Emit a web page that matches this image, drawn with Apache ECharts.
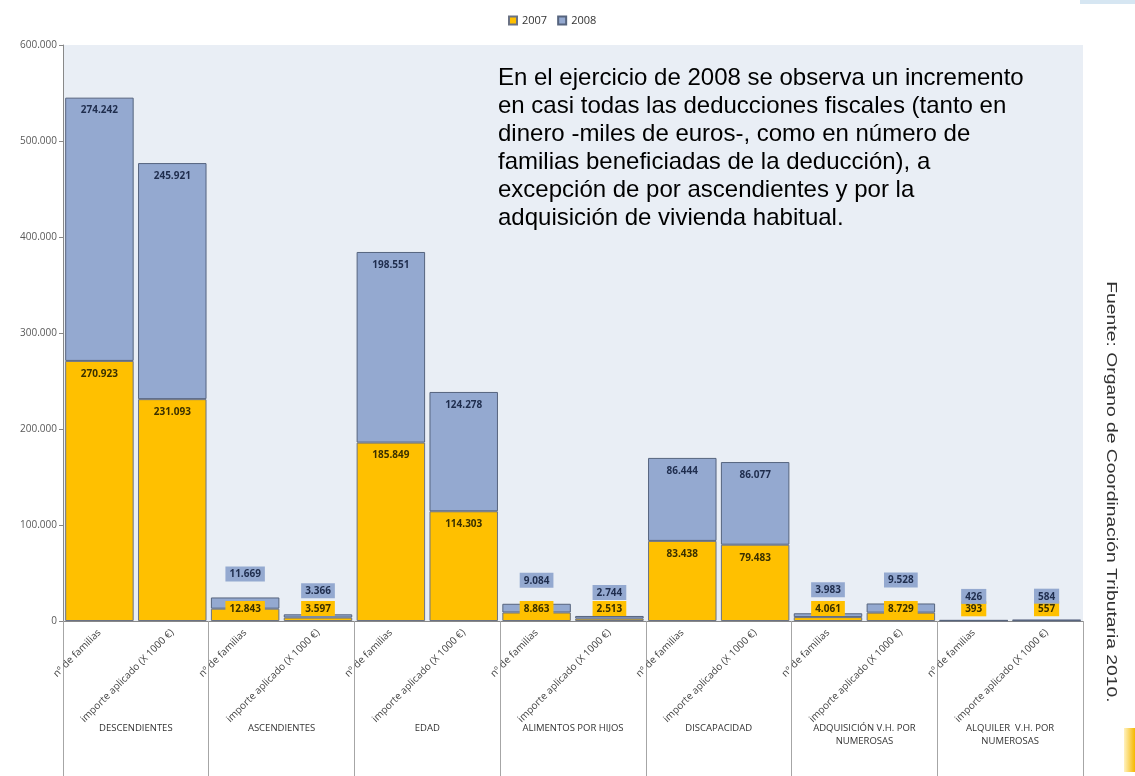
<!DOCTYPE html>
<html>
<head>
<meta charset="utf-8">
<script src="https://cdn.jsdelivr.net/npm/echarts@6/dist/echarts.min.js"></script>
<style>html,body{margin:0;padding:0;background:#fff;}#c{width:1135px;height:776px;}</style>
</head>
<body>
<div id="c"></div>
<script>
var subCategories = ['nº de familias','importe aplicado (X 1000 €)','nº de familias','importe aplicado (X 1000 €)','nº de familias','importe aplicado (X 1000 €)','nº de familias','importe aplicado (X 1000 €)','nº de familias','importe aplicado (X 1000 €)','nº de familias','importe aplicado (X 1000 €)','nº de familias','importe aplicado (X 1000 €)'];
var groups = ['DESCENDIENTES','ASCENDIENTES','EDAD','ALIMENTOS POR HIJOS','DISCAPACIDAD','ADQUISICIÓN V.H. POR\nNUMEROSAS','ALQUILER  V.H. POR\nNUMEROSAS'];
var values2007 = [270923,231093,12843,3597,185849,114303,8863,2513,83438,79483,4061,8729,393,557];
var values2008 = [274242,245921,11669,3366,198551,124278,9084,2744,86444,86077,3983,9528,426,584];
var yTicks = {min:0, max:600000, interval:100000};
var seriesNames = ['2007','2008'];

function fmt(v){ return String(v).replace(/\B(?=(\d{3})+(?!\d))/g,'.'); }

var YELLOW = '#FFC000', BLUE = '#94A9D0';
var FONT = 'Open Sans';

function build(vals, isTop){
  return vals.map(function(v,i){
    var total = values2007[i] + values2008[i];
    var small = total < 30000;
    var lab;
    if (!small) {
      lab = {show:true, position:'insideTop', distance:8};
    } else if (isTop) {
      lab = {show:true, position:'top', distance:16, backgroundColor:BLUE, padding:[3,4,2,4]};
    } else {
      lab = {show:true, position:'insideBottom', distance:5, backgroundColor:YELLOW, padding:[3,4,2,4]};
    }
    return {value:v, label:lab};
  });
}

var chart = echarts.init(document.getElementById('c'));
chart.setOption({
  animation:false,
  backgroundColor:'#ffffff',
  legend:{
    data:seriesNames, left:503, top:10, itemWidth:8, itemHeight:8, itemGap:10, icon:'rect',
    textStyle:{fontSize:11, color:'#333', fontFamily:FONT}
  },
  grid:{left:63, right:52, top:45, bottom:155, show:true, backgroundColor:'#E9EEF5', borderWidth:0},
  xAxis:[{
    type:'category', data:subCategories,
    axisLine:{lineStyle:{color:'#888'}},
    axisTick:{show:false},
    axisLabel:{rotate:45, interval:0, fontSize:10, color:'#444', fontFamily:FONT, margin:10}
  },{
    type:'category', data:groups, position:'bottom',
    axisLine:{show:false},
    axisTick:{show:true, length:160, lineStyle:{color:'#A6A6A6'}},
    axisLabel:{interval:0, fontSize:9.5, color:'#333', fontFamily:FONT, margin:101, lineHeight:13}
  }],
  yAxis:{
    type:'value', min:yTicks.min, max:yTicks.max, interval:yTicks.interval,
    axisLine:{show:true, lineStyle:{color:'#888'}},
    axisTick:{show:true, length:4, lineStyle:{color:'#888'}},
    splitLine:{show:false},
    axisLabel:{fontSize:10, color:'#595959', fontFamily:FONT, margin:6, formatter:fmt}
  },
  series:[{
    name:seriesNames[0], type:'bar', stack:'s', xAxisIndex:0, barCategoryGap:'6%',
    data:build(values2007,false),
    itemStyle:{color:YELLOW, borderColor:'#6B7283', borderWidth:1},
    label:{fontSize:10, fontWeight:'bold', color:'#3A3000', fontFamily:FONT, formatter:function(p){return fmt(p.value);}}
  },{
    name:seriesNames[1], type:'bar', stack:'s', xAxisIndex:0, barCategoryGap:'6%',
    data:build(values2008,true),
    itemStyle:{color:BLUE, borderColor:'#56647E', borderWidth:1},
    label:{fontSize:10, fontWeight:'bold', color:'#1F2D4D', fontFamily:FONT, formatter:function(p){return fmt(p.value);}}
  }],
  graphic:[{
    type:'text', left:498, top:64,
    style:{
      text:'En el ejercicio de 2008 se observa un incremento\nen casi todas las deducciones fiscales (tanto en\ndinero -miles de euros-, como en número de\nfamilias beneficiadas de la deducción), a\nexcepción de por ascendientes y por la\nadquisición de vivienda habitual.',
      font:'24px "Liberation Sans", Arial, sans-serif', fill:'#000', lineHeight:28
    }
  },{
    type:'text', x:1111, y:492, rotation:-Math.PI/2, scaleX:1.38, scaleY:1,
    style:{text:'Fuente: Organo de Coordinación Tributaria 2010.', font:'14px "Liberation Sans", Arial, sans-serif', fill:'#333', align:'center', verticalAlign:'middle'}
  },{
    type:'rect', shape:{x:1080, y:0, width:55, height:4}, style:{fill:'#D6E6F2'}
  },{
    type:'rect', shape:{x:1124, y:728, width:11, height:44}, style:{fill:new echarts.graphic.LinearGradient(0,0,1,0,[{offset:0,color:'#FFF2C0'},{offset:1,color:'#F5B800'}])}
  }]
});
</script>
</body>
</html>
